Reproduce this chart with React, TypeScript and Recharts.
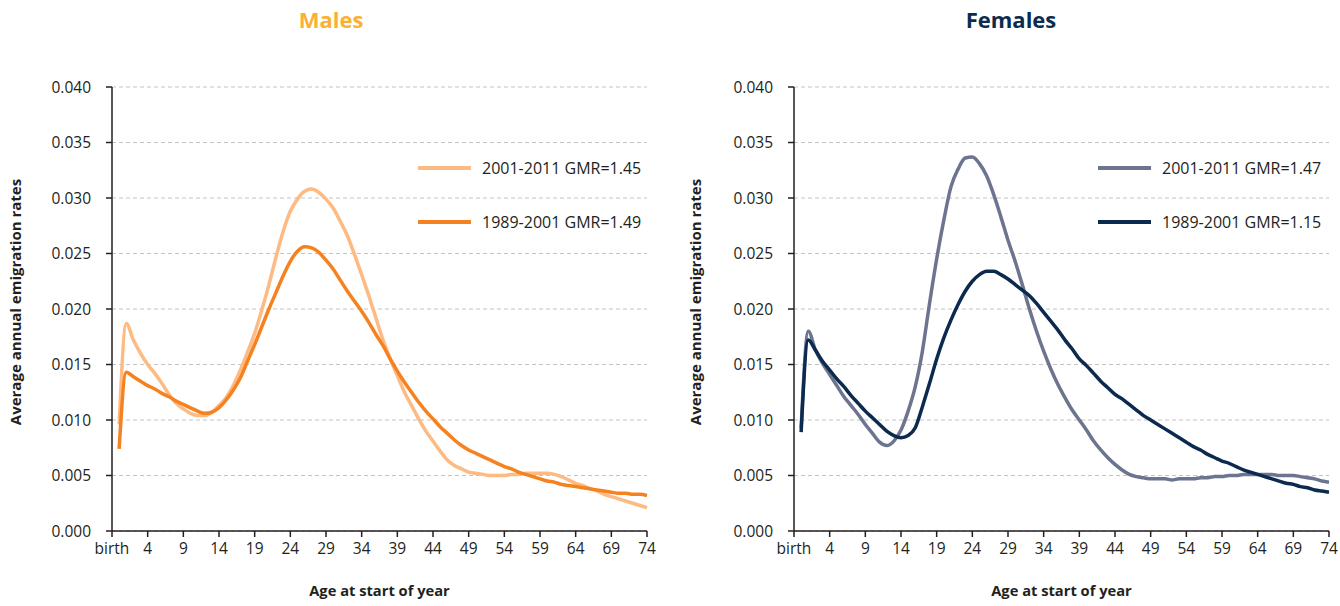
import React from 'react';
import {
  LineChart,
  Line,
  XAxis,
  YAxis,
  CartesianGrid
} from 'recharts';

// emigration rates by age 0..74
const maleRecent = [
  0.0096, 0.0187, 0.0172, 0.016, 0.015, 0.0142, 0.0133, 0.0123, 0.0115, 0.011,
  0.0106, 0.0104, 0.0104, 0.0107, 0.0113, 0.012, 0.0131, 0.0145, 0.0161, 0.0178,
  0.0199, 0.0222, 0.0247, 0.027, 0.0288, 0.0299, 0.0306, 0.0308, 0.0305, 0.0299,
  0.0291, 0.0279, 0.0266, 0.0249, 0.0231, 0.0212, 0.0192, 0.0172, 0.0155, 0.014,
  0.0125, 0.0113, 0.0101, 0.009, 0.0081, 0.0072, 0.0064, 0.0059, 0.0056, 0.0053,
  0.0052, 0.0051, 0.005, 0.005, 0.005, 0.0051, 0.0051, 0.0052, 0.0052, 0.0052,
  0.0052, 0.0051, 0.0049, 0.0046, 0.0043, 0.0041, 0.0038, 0.0036, 0.0033, 0.0031,
  0.0029, 0.0027, 0.0025, 0.0023, 0.0021
];

const malePrevious = [
  0.0074, 0.0143, 0.0139, 0.0135, 0.0131, 0.0128, 0.0124, 0.0121, 0.0117, 0.0114,
  0.0111, 0.0108, 0.0106, 0.0107, 0.0111, 0.0118, 0.0127, 0.0138, 0.0153, 0.0168,
  0.0184, 0.02, 0.0215, 0.023, 0.0243, 0.0252, 0.0256, 0.0255, 0.0251, 0.0244,
  0.0236, 0.0226, 0.0216, 0.0207, 0.0198, 0.0188, 0.0177, 0.0167, 0.0155, 0.0144,
  0.0134, 0.0125, 0.0116, 0.0108, 0.0101, 0.0094, 0.0088, 0.0082, 0.0077, 0.0073,
  0.007, 0.0067, 0.0064, 0.0061, 0.0058, 0.0056, 0.0053, 0.0051, 0.0049, 0.0047,
  0.0045, 0.0044, 0.0042, 0.0041, 0.004, 0.0039, 0.0038, 0.0037, 0.0036, 0.0035,
  0.0034, 0.0034, 0.0033, 0.0033, 0.0032
];

const femaleRecent = [
  0.0093, 0.018, 0.0163, 0.0151, 0.0141, 0.0131, 0.0121, 0.0113, 0.0105, 0.0096,
  0.0088, 0.008, 0.0077, 0.0081, 0.0091, 0.0108, 0.013, 0.0162, 0.0205, 0.0245,
  0.028, 0.031, 0.0326, 0.0336, 0.0337, 0.0331, 0.032, 0.0303, 0.0283, 0.0262,
  0.0243, 0.0222, 0.02, 0.018, 0.0162, 0.0146, 0.0132, 0.012, 0.0109, 0.01,
  0.0091, 0.0081, 0.0073, 0.0066, 0.006, 0.0055, 0.0051, 0.0049, 0.0048, 0.0047,
  0.0047, 0.0047, 0.0046, 0.0047, 0.0047, 0.0047, 0.0048, 0.0048, 0.0049, 0.0049,
  0.005, 0.005, 0.0051, 0.0051, 0.0051, 0.0051, 0.0051, 0.005, 0.005, 0.005,
  0.0049, 0.0048, 0.0047, 0.0045, 0.0044
];

const femalePrevious = [
  0.0089, 0.0172, 0.0163, 0.0153, 0.0145, 0.0137, 0.013, 0.0122, 0.0115, 0.0108,
  0.0102, 0.0096, 0.009, 0.0086, 0.0084, 0.0086, 0.0093, 0.0112, 0.0133, 0.0155,
  0.0174, 0.019, 0.0204, 0.0216, 0.0225, 0.0231, 0.0234, 0.0234, 0.0231, 0.0227,
  0.0222, 0.0217, 0.0212, 0.0205, 0.0197, 0.0189, 0.0181, 0.0172, 0.0164, 0.0155,
  0.0149, 0.0142, 0.0135, 0.0129, 0.0123, 0.0119, 0.0114, 0.0109, 0.0104, 0.01,
  0.0096, 0.0092, 0.0088, 0.0084, 0.008, 0.0076, 0.0073, 0.0069, 0.0066, 0.0063,
  0.0061, 0.0058, 0.0055, 0.0053, 0.0051, 0.0049, 0.0047, 0.0045, 0.0043, 0.0042,
  0.004, 0.0039, 0.0037, 0.0036, 0.0035
];

const ages = maleRecent.map((_, i) => i);
const xTicks = [-1, 4, 9, 14, 19, 24, 29, 34, 39, 44, 49, 54, 59, 64, 69, 74];
const yTicks = [0, 0.005, 0.01, 0.015, 0.02, 0.025, 0.03, 0.035, 0.04];

const FONT = '"Open Sans", "Noto Sans", sans-serif';
const TEXT = '#231f20';

interface Series {
  key: string;
  name: string;
  color: string;
  values: number[];
}

interface PanelProps {
  left: number;
  width: number;
  yAxisWidth: number;
  marginRight: number;
  title: string;
  titleColor: string;
  titleX: number;
  series: Series[];
}

function Panel({ left, width, yAxisWidth, marginRight, title, titleColor, titleX, series }: PanelProps) {
  const data = ages.map((age, i) => {
    const row: Record<string, number> = { age };
    series.forEach((s) => {
      row[s.key] = s.values[i];
    });
    return row;
  });

  const plotLeft = yAxisWidth;
  const plotRight = width - marginRight;

  return (
    <div style={{ position: 'absolute', left, top: 0, width, height: 606 }}>
      <div
        style={{
          position: 'absolute',
          left: titleX - left - 100,
          width: 200,
          top: 4,
          textAlign: 'center',
          fontFamily: FONT,
          fontWeight: 700,
          fontSize: 22,
          color: titleColor
        }}
      >
        {title}
      </div>
      <LineChart
        width={width}
        height={606}
        data={data}
        margin={{ top: 87, right: marginRight, bottom: 45, left: 0 }}
      >
        <CartesianGrid vertical={false} stroke="#c4c4c4" strokeDasharray="4 3" />
        <XAxis
          dataKey="age"
          type="number"
          domain={[-1, 74]}
          ticks={xTicks}
          interval={0}
          height={30}
          tickFormatter={(v: number) => (v === -1 ? 'birth' : String(v))}
          stroke={TEXT}
          strokeWidth={1.5}
          tickSize={6}
          tickMargin={6}
          tick={{ fill: TEXT, fontSize: 15.5, fontFamily: FONT }}
        />
        <YAxis
          domain={[0, 0.04]}
          ticks={yTicks}
          width={yAxisWidth}
          tickFormatter={(v: number) => v.toFixed(3)}
          stroke={TEXT}
          strokeWidth={1.5}
          tickSize={6}
          tickMargin={15}
          tick={{ fill: TEXT, fontSize: 15.5, fontFamily: FONT }}
        />
        {series.map((s) => (
          <Line
            key={s.key}
            type="monotone"
            dataKey={s.key}
            name={s.name}
            stroke={s.color}
            strokeWidth={3.5}
            dot={false}
            isAnimationActive={false}
          />
        ))}
      </LineChart>
      <div
        style={{
          position: 'absolute',
          left: 418,
          top: 155,
          fontFamily: FONT,
          fontSize: 16,
          color: TEXT
        }}
      >
        {series.map((s) => (
          <div key={s.key} style={{ display: 'flex', alignItems: 'center', height: 26, marginBottom: 28 }}>
            <div style={{ width: 53, height: 3.5, background: s.color, marginRight: 11 }} />
            <span>{s.name}</span>
          </div>
        ))}
      </div>
      <div
        style={{
          position: 'absolute',
          left: (plotLeft + plotRight) / 2 - 150,
          width: 300,
          top: 580,
          textAlign: 'center',
          fontFamily: FONT,
          fontWeight: 700,
          fontSize: 14.7,
          color: TEXT
        }}
      >
        Age at start of year
      </div>
      <div
        style={{
          position: 'absolute',
          left: 15 - 160,
          top: 302 - 10,
          width: 320,
          height: 20,
          lineHeight: '20px',
          textAlign: 'center',
          transform: 'rotate(-90deg)',
          fontFamily: FONT,
          fontWeight: 700,
          fontSize: 15,
          color: TEXT,
          whiteSpace: 'nowrap'
        }}
      >
        Average annual emigration rates
      </div>
    </div>
  );
}

export default function App() {
  return (
    <div style={{ position: 'absolute', left: 0, top: 0, width: 1340, height: 606, background: '#fff' }}>
      <Panel
        left={0}
        width={670}
        yAxisWidth={112}
        marginRight={23}
        title="Males"
        titleColor="#fbb034"
        titleX={331}
        series={[
          { key: 'recent', name: '2001-2011 GMR=1.45', color: '#fdba82', values: maleRecent },
          { key: 'previous', name: '1989-2001 GMR=1.49', color: '#f58220', values: malePrevious }
        ]}
      />
      <Panel
        left={680}
        width={660}
        yAxisWidth={114}
        marginRight={11}
        title="Females"
        titleColor="#0c2c4e"
        titleX={1011}
        series={[
          { key: 'recent', name: '2001-2011 GMR=1.47', color: '#6d7490', values: femaleRecent },
          { key: 'previous', name: '1989-2001 GMR=1.15', color: '#0b2a4e', values: femalePrevious }
        ]}
      />
    </div>
  );
}
